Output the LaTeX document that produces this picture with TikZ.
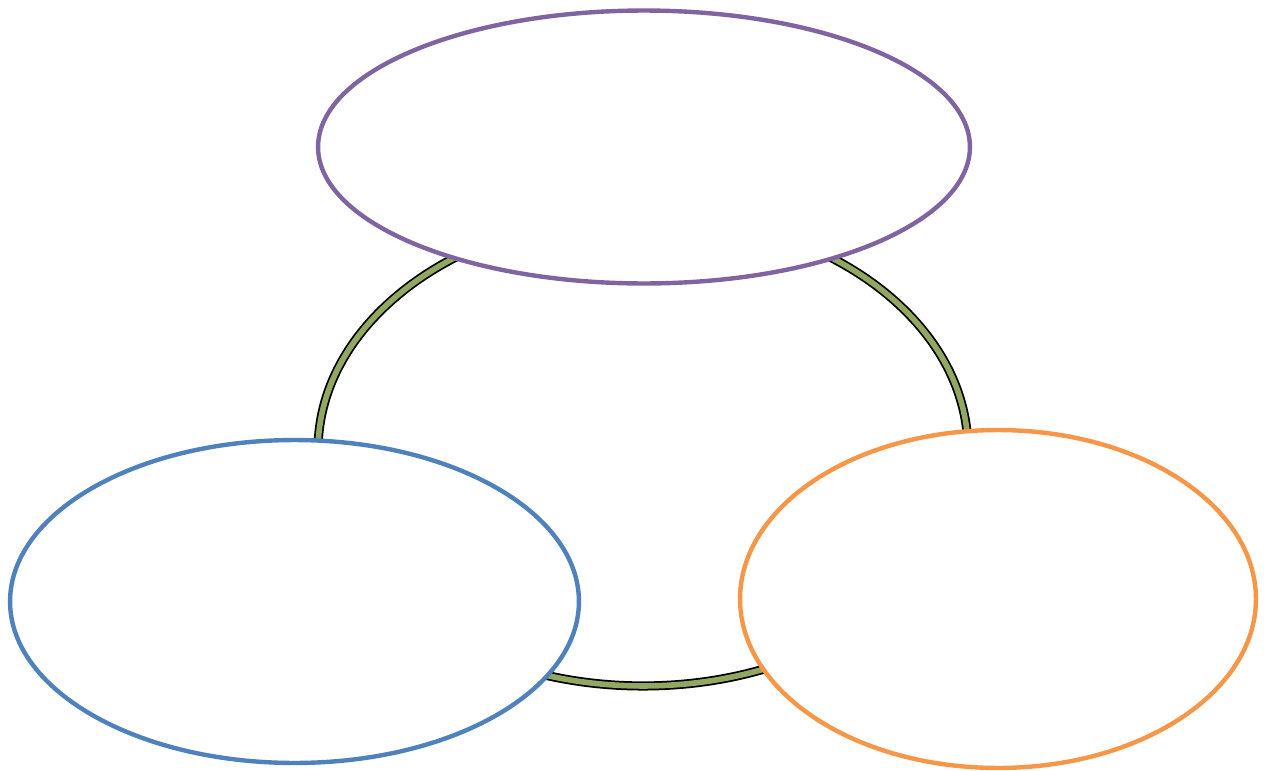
\documentclass[tikz,border=0pt]{standalone}
\usepackage{tikz}
\usepackage{xcolor}
\usetikzlibrary{shapes.geometric}
\definecolor{ringgreen}{RGB}{146,168,96}
\definecolor{topviolet}{RGB}{128,100,162}
\definecolor{leftblue}{RGB}{79,129,189}
\definecolor{rightorange}{RGB}{247,150,70}

\begin{document}
\begin{tikzpicture}[
    x=0.02cm, y=-0.02cm,
    bubble/.style={ellipse, fill=white, line width=2.5pt, inner sep=0pt},
    ring/.style={ellipse, draw=black, line width=1pt, double=ringgreen, double distance=3.2pt, inner sep=0pt}
]
\useasboundingbox (0,0) rectangle (1272,771);

% Ring behind
\node[ring, minimum width=13cm, minimum height=9.44cm] (hub) at (643,450) {};

% Three ellipses
\node[bubble, draw=topviolet, minimum width=13.04cm, minimum height=5.46cm] (top) at (644,147) {};
\node[bubble, draw=leftblue, minimum width=11.38cm, minimum height=6.46cm] (left) at (294.5,601.5) {};
\node[bubble, draw=rightorange, minimum width=10.32cm, minimum height=6.76cm] (right) at (998,599) {};

\end{tikzpicture}
\end{document}
